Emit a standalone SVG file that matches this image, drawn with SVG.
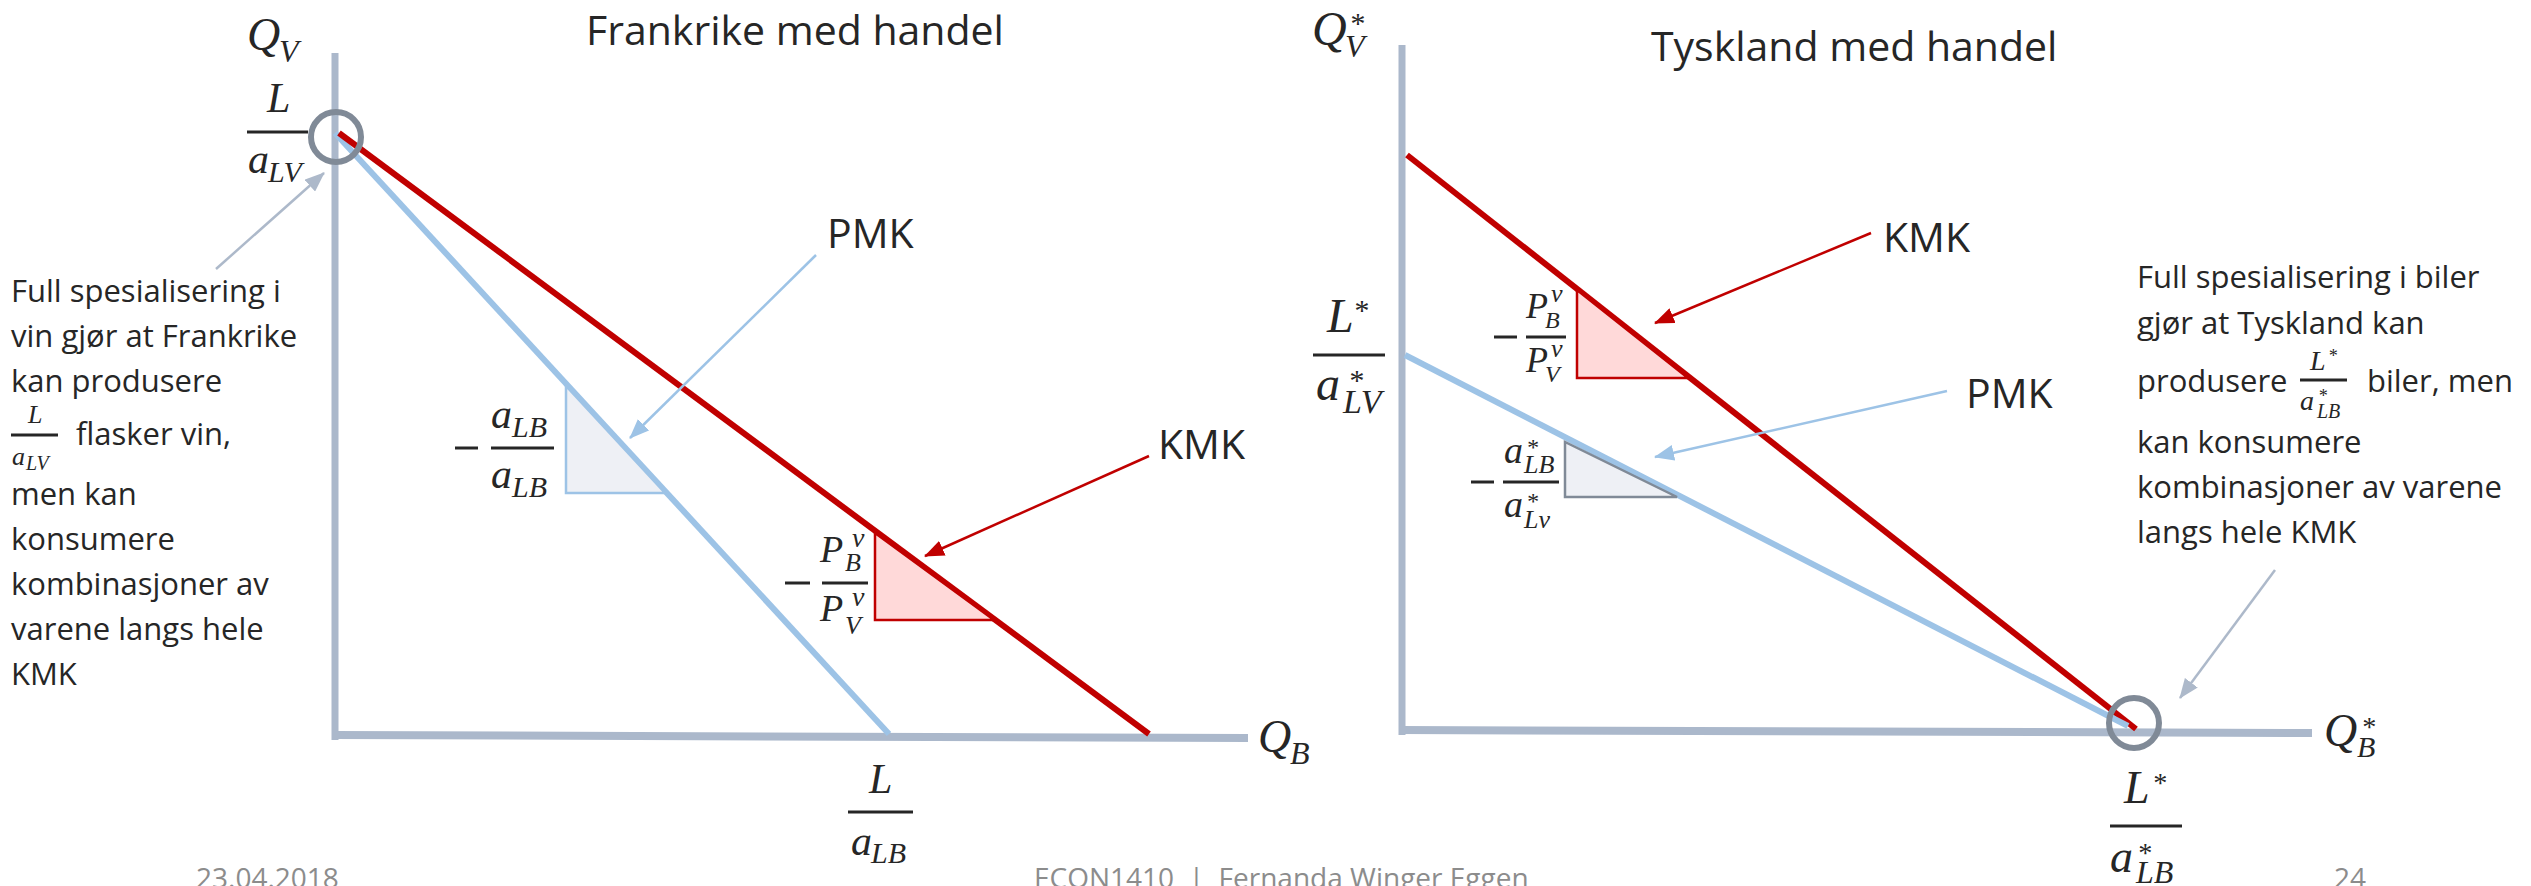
<svg xmlns="http://www.w3.org/2000/svg" width="2531" height="886" viewBox="0 0 2531 886">
<style>
.t{font-family:"Open Sans","Liberation Sans",sans-serif;fill:#262626}
.ti{font-size:41px}
.d{font-size:31px}
.m{font-family:"Liberation Serif","DejaVu Serif",serif;font-style:italic;fill:#262626}
.ft{font-family:"Open Sans","Liberation Sans",sans-serif;fill:#8C8C8C;font-size:28px}
.ax{stroke:#ABB8CB;fill:none}
.bar{stroke:#262626;stroke-width:3}
.red{stroke:#C00000;stroke-width:6;fill:none}
.blue{stroke:#9DC3E6;stroke-width:6;fill:none}
.ring{stroke:#808A97;stroke-width:6;fill:none}
</style>
<defs>
<marker id="ab" markerUnits="userSpaceOnUse" markerWidth="20" markerHeight="16" refX="19" refY="8" orient="auto"><path d="M0,0 L20,8 L0,16 z" fill="#9DC3E6"/></marker>
<marker id="ar" markerUnits="userSpaceOnUse" markerWidth="20" markerHeight="16" refX="19" refY="8" orient="auto"><path d="M0,0 L20,8 L0,16 z" fill="#C00000"/></marker>
<marker id="ag" markerUnits="userSpaceOnUse" markerWidth="20" markerHeight="16" refX="19" refY="8" orient="auto"><path d="M0,0 L20,8 L0,16 z" fill="#ADB9CA"/></marker>
</defs>
<rect width="2531" height="886" fill="#FFFFFF"/>

<!-- LEFT CHART -->
<g id="frankrike-axes">
<line class="ax" x1="335" y1="53" x2="335" y2="740" stroke-width="7"/>
<line class="ax" x1="332" y1="735" x2="1248" y2="738" stroke-width="8"/>
</g>
<g id="frankrike-title"><text class="t ti" x="586" y="45">Frankrike med handel</text></g>
<g id="frankrike-qv"><text class="m" x="247" y="50" font-size="46">Q</text><text class="m" x="279" y="62" font-size="32">V</text></g>
<g id="frankrike-qb"><text class="m" x="1258" y="752" font-size="46">Q</text><text class="m" x="1290" y="764" font-size="32">B</text></g>
<g id="frankrike-pmk-line"><line class="blue" x1="335" y1="133" x2="889" y2="734"/></g>
<g id="frankrike-kmk-line"><line class="red" x1="339" y1="133" x2="1149" y2="734"/></g>
<g id="frankrike-circle"><circle class="ring" cx="336" cy="137" r="25"/></g>
<g id="frankrike-l-alv">
<text class="m" x="267" y="112" font-size="42">L</text>
<line class="bar" x1="247" y1="132" x2="308" y2="132"/>
<text class="m" x="248" y="173" font-size="42">a</text><text class="m" x="268" y="182" font-size="30">LV</text>
</g>
<g id="frankrike-l-alb">
<text class="m" x="869" y="793" font-size="42">L</text>
<line class="bar" x1="848" y1="812" x2="913" y2="812"/>
<text class="m" x="851" y="855" font-size="42">a</text><text class="m" x="871" y="863" font-size="30">LB</text>
</g>
<g id="frankrike-pmk-triangle">
<path d="M566,386 L566,493 L665,493 Z" fill="#EEF0F5" stroke="#9DC3E6" stroke-width="2.5"/>
<line class="bar" x1="455" y1="448" x2="478" y2="448"/>
<line class="bar" x1="491" y1="448" x2="554" y2="448"/>
<text class="m" x="491" y="428" font-size="42">a</text><text class="m" x="512" y="437" font-size="30">LB</text>
<text class="m" x="491" y="488" font-size="42">a</text><text class="m" x="512" y="497" font-size="30">LB</text>
</g>
<g id="frankrike-kmk-triangle">
<path d="M875,533 L875,620 L994,620 Z" fill="#FFD9D9" stroke="#C00000" stroke-width="2.5"/>
<line class="bar" x1="785" y1="583" x2="810" y2="583"/>
<line class="bar" x1="822" y1="583" x2="868" y2="583"/>
<text class="m" x="820" y="562" font-size="38">P</text><text class="m" x="852" y="547" font-size="28">v</text><text class="m" x="845" y="571" font-size="26">B</text>
<text class="m" x="820" y="621" font-size="38">P</text><text class="m" x="852" y="606" font-size="28">v</text><text class="m" x="845" y="634" font-size="26">V</text>
</g>
<g id="frankrike-pmk-label"><text class="t ti" x="827" y="248">PMK</text></g>
<g id="frankrike-kmk-label"><text class="t ti" x="1158" y="459">KMK</text></g>
<g id="frankrike-note">
<text class="t d" x="11" y="302">Full spesialisering i</text>
<text class="t d" x="11" y="347">vin gjør at Frankrike</text>
<text class="t d" x="11" y="392">kan produsere</text>
<text class="m" x="28" y="423" font-size="26">L</text>
<line class="bar" x1="11" y1="435" x2="58" y2="435" stroke-width="2.5"/>
<text class="m" x="12" y="465" font-size="26">a</text><text class="m" x="26" y="470" font-size="20">LV</text>
<text class="t d" x="76" y="445">flasker vin,</text>
<text class="t d" x="11" y="505">men kan</text>
<text class="t d" x="11" y="550">konsumere</text>
<text class="t d" x="11" y="595">kombinasjoner av</text>
<text class="t d" x="11" y="640">varene langs hele</text>
<text class="t d" x="11" y="685">KMK</text>
</g>

<!-- RIGHT CHART -->
<g id="tyskland-axes">
<line class="ax" x1="1402" y1="45" x2="1402" y2="735" stroke-width="7"/>
<line class="ax" x1="1399" y1="730" x2="2312" y2="733" stroke-width="8"/>
</g>
<g id="tyskland-title"><text class="t ti" x="1651" y="61">Tyskland med handel</text></g>
<g id="tyskland-qv"><text class="m" x="1312" y="45" font-size="48">Q</text><text class="m" x="1349" y="33" font-size="30">*</text><text class="m" x="1345" y="57" font-size="32">V</text></g>
<g id="tyskland-qb"><text class="m" x="2324" y="746" font-size="46">Q</text><text class="m" x="2361" y="736" font-size="28">*</text><text class="m" x="2357" y="757" font-size="30">B</text></g>
<g id="tyskland-kmk-line"><line class="red" x1="1407" y1="155" x2="2136" y2="729"/></g>
<g id="tyskland-pmk-line"><line class="blue" x1="1405" y1="355" x2="2128" y2="726"/></g>
<g id="tyskland-circle"><circle class="ring" cx="2134" cy="723" r="25"/></g>
<g id="tyskland-l-alv">
<text class="m" x="1327" y="332" font-size="48">L</text><text class="m" x="1353" y="320" font-size="30">*</text>
<line class="bar" x1="1313" y1="355" x2="1385" y2="355"/>
<text class="m" x="1316" y="400" font-size="48">a</text><text class="m" x="1348" y="390" font-size="30">*</text><text class="m" x="1343" y="413" font-size="34">LV</text>
</g>
<g id="tyskland-l-alb">
<text class="m" x="2124" y="803" font-size="46">L</text><text class="m" x="2152" y="792" font-size="28">*</text>
<line class="bar" x1="2110" y1="826" x2="2182" y2="826"/>
<text class="m" x="2110" y="872" font-size="46">a</text><text class="m" x="2137" y="862" font-size="28">*</text><text class="m" x="2136" y="883" font-size="32">LB</text>
</g>
<g id="tyskland-kmk-triangle">
<path d="M1577,290 L1577,378 L1688,378 Z" fill="#FFD9D9" stroke="#C00000" stroke-width="2.5"/>
<line class="bar" x1="1494" y1="337" x2="1517" y2="337"/>
<line class="bar" x1="1526" y1="337" x2="1566" y2="337"/>
<text class="m" x="1526" y="318" font-size="36">P</text><text class="m" x="1551" y="302" font-size="26">v</text><text class="m" x="1545" y="328" font-size="24">B</text>
<text class="m" x="1526" y="372" font-size="36">P</text><text class="m" x="1551" y="357" font-size="26">v</text><text class="m" x="1545" y="382" font-size="24">V</text>
</g>
<g id="tyskland-pmk-triangle">
<path d="M1565,442 L1565,497 L1677,497 Z" fill="#EEF0F5" stroke="#808A97" stroke-width="2.5"/>
<line class="bar" x1="1471" y1="482" x2="1494" y2="482"/>
<line class="bar" x1="1503" y1="482" x2="1559" y2="482"/>
<text class="m" x="1504" y="463" font-size="38">a</text><text class="m" x="1526" y="455" font-size="24">*</text><text class="m" x="1524" y="473" font-size="26">LB</text>
<text class="m" x="1504" y="517" font-size="38">a</text><text class="m" x="1526" y="509" font-size="24">*</text><text class="m" x="1524" y="528" font-size="26">Lv</text>
</g>
<g id="tyskland-kmk-label"><text class="t ti" x="1883" y="252">KMK</text></g>
<g id="tyskland-pmk-label"><text class="t ti" x="1966" y="408">PMK</text></g>
<g id="tyskland-note">
<text class="t d" x="2137" y="288">Full spesialisering i biler</text>
<text class="t d" x="2137" y="334">gjør at Tyskland kan</text>
<text class="t d" x="2137" y="392">produsere</text>
<text class="m" x="2310" y="370" font-size="28">L</text><text class="m" x="2328" y="362" font-size="18">*</text>
<line class="bar" x1="2300" y1="380" x2="2347" y2="380" stroke-width="2.5"/>
<text class="m" x="2300" y="410" font-size="28">a</text><text class="m" x="2318" y="402" font-size="18">*</text><text class="m" x="2317" y="418" font-size="20">LB</text>
<text class="t d" x="2367" y="392">biler, men</text>
<text class="t d" x="2137" y="453">kan konsumere</text>
<text class="t d" x="2137" y="498">kombinasjoner av varene</text>
<text class="t d" x="2137" y="543">langs hele KMK</text>
</g>

<!-- CONNECTORS -->
<g id="connectors" fill="none">
<line x1="216" y1="269" x2="324" y2="173" stroke="#ADB9CA" stroke-width="2.5" marker-end="url(#ag)"/>
<line x1="816" y1="255" x2="630" y2="438" stroke="#9DC3E6" stroke-width="2.5" marker-end="url(#ab)"/>
<line x1="1149" y1="456" x2="925" y2="556" stroke="#C00000" stroke-width="2.5" marker-end="url(#ar)"/>
<line x1="1871" y1="233" x2="1655" y2="323" stroke="#C00000" stroke-width="2.5" marker-end="url(#ar)"/>
<line x1="1947" y1="391" x2="1655" y2="457" stroke="#9DC3E6" stroke-width="2.5" marker-end="url(#ab)"/>
<line x1="2275" y1="570" x2="2180" y2="698" stroke="#ADB9CA" stroke-width="2.5" marker-end="url(#ag)"/>
</g>

<!-- FOOTER -->
<g id="footer">
<text class="ft" x="196" y="888">23.04.2018</text>
<text class="ft" x="1034" y="888" xml:space="preserve">ECON1410  |  Fernanda Winger Eggen</text>
<text class="ft" x="2334" y="888">24</text>
</g>
</svg>
